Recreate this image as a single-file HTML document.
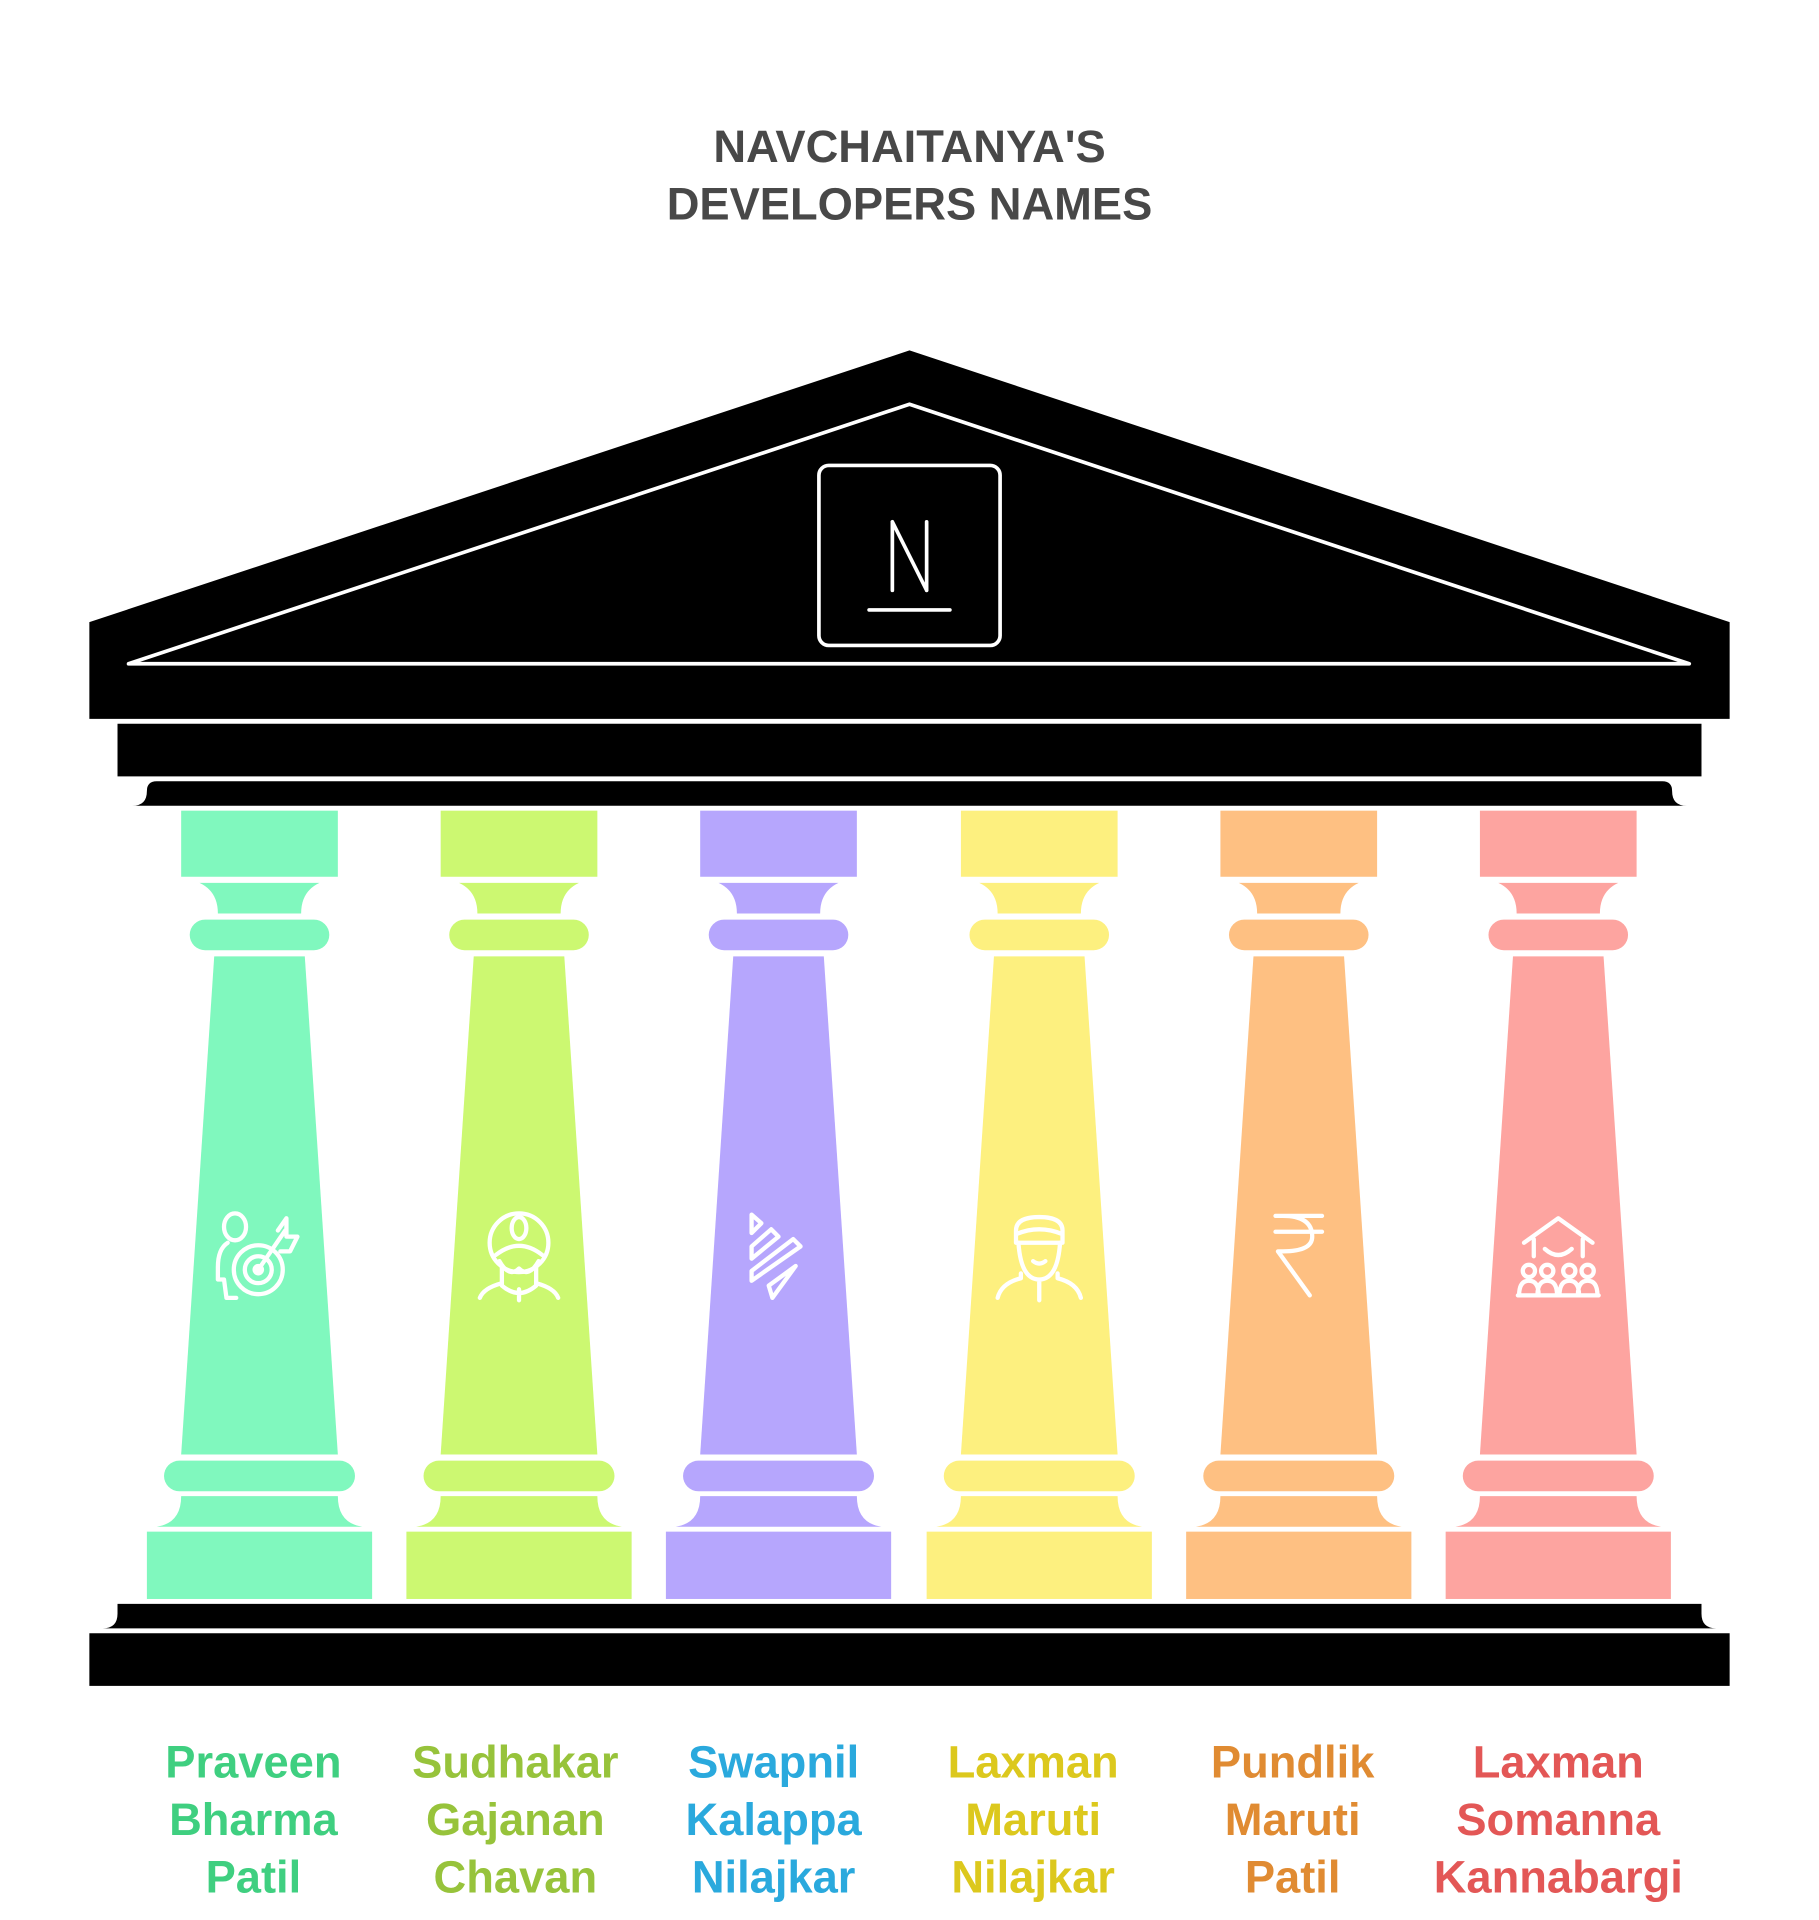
<!DOCTYPE html>
<html><head><meta charset="utf-8"><style>html,body{margin:0;padding:0;background:#fff}svg{display:block}</style></head>
<body>
<svg width="1819" height="1920" viewBox="0 0 1486 1568" xmlns="http://www.w3.org/2000/svg">
<defs>
<g id="pillar">
  <rect x="-64" y="662" width="128" height="54"/>
  <path d="M-49 721 H49 Q34 728 34 746 H-34 Q-34 728 -49 721 Z"/>
  <rect x="-57" y="751" width="114" height="25" rx="12.5"/>
  <path d="M-37 781 H37 L64 1188 H-64 Z"/>
  <rect x="-78" y="1193" width="156" height="25" rx="12.5"/>
  <path d="M-64 1222 H64 Q64 1244 84 1247 H-84 Q-64 1244 -64 1222 Z"/>
  <rect x="-92" y="1251" width="184" height="55"/>
</g>
</defs>
<g font-family="Liberation Sans, sans-serif" font-weight="bold" font-size="37" fill="#484848" text-anchor="middle">
  <text x="743" y="132">NAVCHAITANYA'S</text>
  <text x="743" y="179">DEVELOPERS NAMES</text>
</g>
<path d="M73 508 L743 286 L1413 508 V587 H73 Z" fill="#000"/>
<path d="M105 542 L743 330 L1380 542 Z" fill="none" stroke="#fff" stroke-width="3" stroke-linejoin="round"/>
<rect x="669" y="380" width="148" height="147" rx="8" fill="none" stroke="#fff" stroke-width="3"/>
<path d="M729 426 V482 M729 426 L757 482 M757 426 V482 M710 498 H776" fill="none" stroke="#fff" stroke-width="3" stroke-linecap="round"/>
<rect x="96" y="591" width="1294" height="43" fill="#000"/>
<path d="M108 658 Q120 658 120 646 Q120 638 128 638 H1358 Q1366 638 1366 646 Q1366 658 1378 658 Z" fill="#000"/>
<path d="M84 1330 Q96 1330 96 1318 V1310 H1390 V1318 Q1390 1330 1402 1330 Z" fill="#000"/>
<rect x="73" y="1334" width="1340" height="43" fill="#000"/>
<use href="#pillar" x="212" fill="#80f8be"/>
<use href="#pillar" x="424" fill="#ccf871"/>
<use href="#pillar" x="636" fill="#b6a6fd"/>
<use href="#pillar" x="849" fill="#fdf07f"/>
<use href="#pillar" x="1061" fill="#fec082"/>
<use href="#pillar" x="1273" fill="#fda4a0"/>
<g fill="none" stroke="#fff" stroke-width="3.5" stroke-linecap="round" stroke-linejoin="round">
  <ellipse cx="192" cy="1002" rx="9" ry="11"/>
  <path d="M186 1015 Q178 1020 178 1035 V1045 H183 L185 1060 H193"/>
  <circle cx="211" cy="1037" r="20"/><circle cx="211" cy="1037" r="11"/><circle cx="211" cy="1037" r="3"/>
  <path d="M211 1037 L233 1005 M227 1005 L234 995 V1010 H243 L237 1022 H229"/>
  <ellipse cx="424" cy="1015" rx="24" ry="24"/>
  <ellipse cx="424" cy="1003" rx="6" ry="9"/>
  <path d="M405 1025 Q424 1010 443 1025 M408 1030 Q416 1044 424 1036 Q432 1044 440 1030 M410 1035 V1050 Q424 1062 438 1050 V1035 M410 1048 Q395 1052 392 1060 M438 1048 Q453 1052 456 1060 M424 1053 V1062"/>
  <path d="M614 992 V1007 L622 999 Z M614 1018 L630 1004 L636 1010 L614 1028 Z M614 1038 L648 1012 L654 1018 L614 1046 Z M628 1050 L650 1034 L631 1060 Z"/>
  <path d="M830 1005 Q830 994 849 994 Q868 994 868 1005 V1015 H830 Z M830 1008 Q849 1000 868 1008"/>
  <path d="M832 1015 Q834 1045 849 1045 Q864 1045 866 1015 M844 1030 Q849 1034 854 1030 M834 1040 L834 1044 Q818 1048 815 1060 M864 1040 V1044 Q880 1048 883 1060 M849 1045 V1062"/>
  <path d="M1042 993 H1080 M1042 1006 H1080 M1048 993 Q1072 993 1072 1010 Q1072 1022 1048 1022 H1044 L1070 1058"/>
  <path d="M1245 1015 L1273 995 L1301 1015 M1253 1012 V1026 M1293 1012 V1026 M1262 1020 Q1273 1030 1284 1020"/>
  <circle cx="1249" cy="1038" r="5"/><circle cx="1264" cy="1038" r="5"/><circle cx="1282" cy="1038" r="5"/><circle cx="1297" cy="1038" r="5"/>
  <path d="M1241 1058 Q1241 1046 1249 1046 Q1257 1046 1257 1058 M1256 1058 Q1256 1046 1264 1046 Q1272 1046 1272 1058 M1274 1058 Q1274 1046 1282 1046 Q1290 1046 1290 1058 M1289 1058 Q1289 1046 1297 1046 Q1305 1046 1305 1058 M1240 1058 H1306"/>
</g>
<g font-family="Liberation Sans, sans-serif" font-weight="bold" font-size="37" text-anchor="middle">
  <g fill="#3fcf80"><text x="207" y="1452">Praveen</text><text x="207" y="1499">Bharma</text><text x="207" y="1546">Patil</text></g>
  <g fill="#97c33b"><text x="421" y="1452">Sudhakar</text><text x="421" y="1499">Gajanan</text><text x="421" y="1546">Chavan</text></g>
  <g fill="#2aa9dd"><text x="632" y="1452">Swapnil</text><text x="632" y="1499">Kalappa</text><text x="632" y="1546">Nilajkar</text></g>
  <g fill="#dcc81d"><text x="844" y="1452">Laxman</text><text x="844" y="1499">Maruti</text><text x="844" y="1546">Nilajkar</text></g>
  <g fill="#e08b32"><text x="1056" y="1452">Pundlik</text><text x="1056" y="1499">Maruti</text><text x="1056" y="1546">Patil</text></g>
  <g fill="#e35756"><text x="1273" y="1452">Laxman</text><text x="1273" y="1499">Somanna</text><text x="1273" y="1546">Kannabargi</text></g>
</g>
</svg>
</body></html>
